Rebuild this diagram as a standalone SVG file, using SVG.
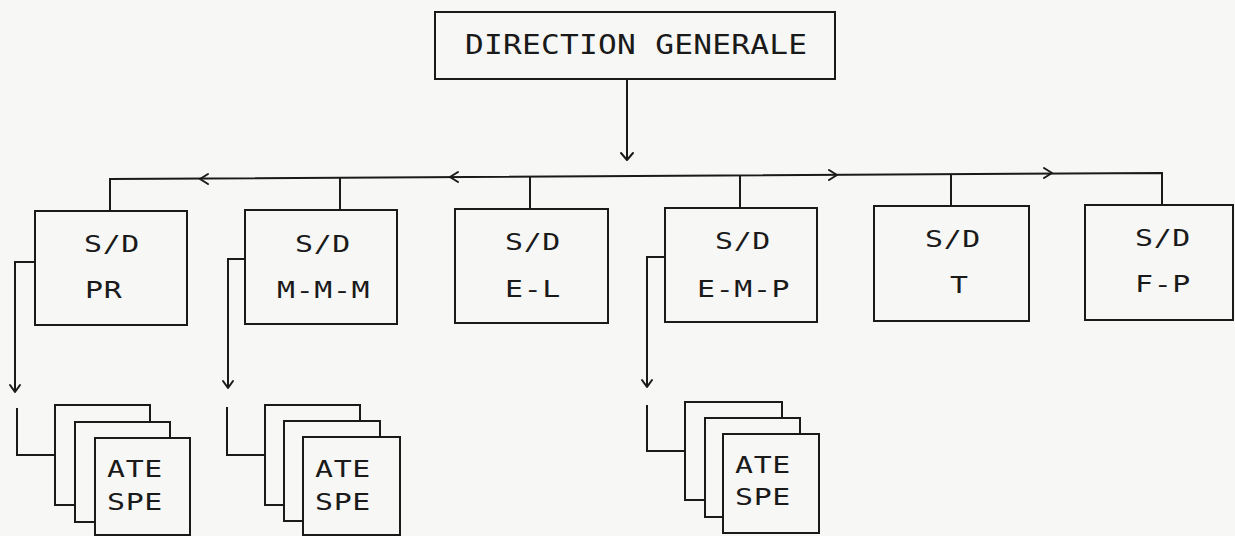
<svg xmlns="http://www.w3.org/2000/svg" width="1235" height="536" viewBox="0 0 1235 536">
<style>
.bg{fill:#f7f7f5}
.box{fill:#f7f7f5;stroke:#1a1a1a;stroke-width:2}
.ln{fill:none;stroke:#1a1a1a;stroke-width:2}
.ah{fill:none;stroke:#1a1a1a;stroke-width:2;stroke-linecap:round;stroke-linejoin:round}
.t{font-family:"DejaVu Sans Mono","Liberation Mono",monospace;font-size:23px;letter-spacing:0.5px;fill:#1a1a1a}
.tt{font-family:"DejaVu Sans Mono","Liberation Mono",monospace;font-size:26px;letter-spacing:0.2px;fill:#1a1a1a}
</style>
<rect class="bg" x="0" y="0" width="1235" height="536"/>

<g id="connectors">
  <path class="ln" d="M627,79 V160"/>
  <path class="ah" d="M621,153 L627,160 L633,153"/>
  <path class="ln" d="M110,211 V179 L1162,173 V205"/>
  <path class="ah" d="M208,174 L200,179 L208,184"/>
  <path class="ah" d="M458,172 L450,177 L458,182"/>
  <path class="ah" d="M829,170 L837,175 L829,180"/>
  <path class="ah" d="M1044,168 L1052,173 L1044,178"/>
  <path class="ln" d="M340,178 V210"/>
  <path class="ln" d="M530,177 V209"/>
  <path class="ln" d="M740,175 V208"/>
  <path class="ln" d="M951,174 V206"/>
  <path class="ln" d="M35,262 H15 V392"/>
  <path class="ah" d="M10,385 L15,392 L20,385"/>
  <path class="ln" d="M245,259 H228 V388"/>
  <path class="ah" d="M223,381 L228,388 L233,381"/>
  <path class="ln" d="M665,257 H647 V387"/>
  <path class="ah" d="M642,380 L647,387 L652,380"/>
  <path class="ln" d="M17,408 V455 H55"/>
  <path class="ln" d="M227,407 V455 H265"/>
  <path class="ln" d="M647,405 V451 H685"/>
</g>

<g id="direction-generale">
  <rect class="box" x="435" y="12" width="400" height="67"/>
  <text class="tt" transform="translate(465,54) scale(1.2,1)">DIRECTION GENERALE</text>
</g>

<g id="sd-pr">
  <rect class="box" x="35" y="211" width="152" height="114"/>
  <text class="t" transform="translate(84,252) scale(1.3,1)">S/D</text>
  <text class="t" transform="translate(85,298) scale(1.3,1)">PR</text>
</g>
<g id="sd-mmm">
  <rect class="box" x="245" y="210" width="152" height="114"/>
  <text class="t" transform="translate(295,252) scale(1.3,1)">S/D</text>
  <text class="t" transform="translate(277,298) scale(1.3,1)">M-M-M</text>
</g>
<g id="sd-el">
  <rect class="box" x="455" y="209" width="153" height="114"/>
  <text class="t" transform="translate(505,250) scale(1.3,1)">S/D</text>
  <text class="t" transform="translate(505,297) scale(1.3,1)">E-L</text>
</g>
<g id="sd-emp">
  <rect class="box" x="665" y="208" width="152" height="114"/>
  <text class="t" transform="translate(715,249) scale(1.3,1)">S/D</text>
  <text class="t" transform="translate(697,297) scale(1.3,1)">E-M-P</text>
</g>
<g id="sd-t">
  <rect class="box" x="874" y="206" width="155" height="115"/>
  <text class="t" transform="translate(925,247) scale(1.3,1)">S/D</text>
  <text class="t" transform="translate(950,293) scale(1.3,1)">T</text>
</g>
<g id="sd-fp">
  <rect class="box" x="1085" y="205" width="148" height="115"/>
  <text class="t" transform="translate(1135,246) scale(1.3,1)">S/D</text>
  <text class="t" transform="translate(1135,292) scale(1.3,1)">F-P</text>
</g>

<g id="ate-spe-1">
  <rect class="box" x="55" y="405" width="95" height="100"/>
  <rect class="box" x="75" y="422" width="95" height="100"/>
  <rect class="box" x="95" y="438" width="95" height="97"/>
  <text class="t" transform="translate(107,477) scale(1.3,1)">ATE</text>
  <text class="t" transform="translate(107,510) scale(1.3,1)">SPE</text>
</g>
<g id="ate-spe-2">
  <rect class="box" x="265" y="405" width="95" height="100"/>
  <rect class="box" x="284" y="421" width="96" height="100"/>
  <rect class="box" x="303" y="437" width="97" height="98"/>
  <text class="t" transform="translate(315,477) scale(1.3,1)">ATE</text>
  <text class="t" transform="translate(315,510) scale(1.3,1)">SPE</text>
</g>
<g id="ate-spe-3">
  <rect class="box" x="685" y="402" width="97" height="98"/>
  <rect class="box" x="705" y="418" width="95" height="99"/>
  <rect class="box" x="723" y="434" width="96" height="99"/>
  <text class="t" transform="translate(735,473) scale(1.3,1)">ATE</text>
  <text class="t" transform="translate(735,505) scale(1.3,1)">SPE</text>
</g>
</svg>
